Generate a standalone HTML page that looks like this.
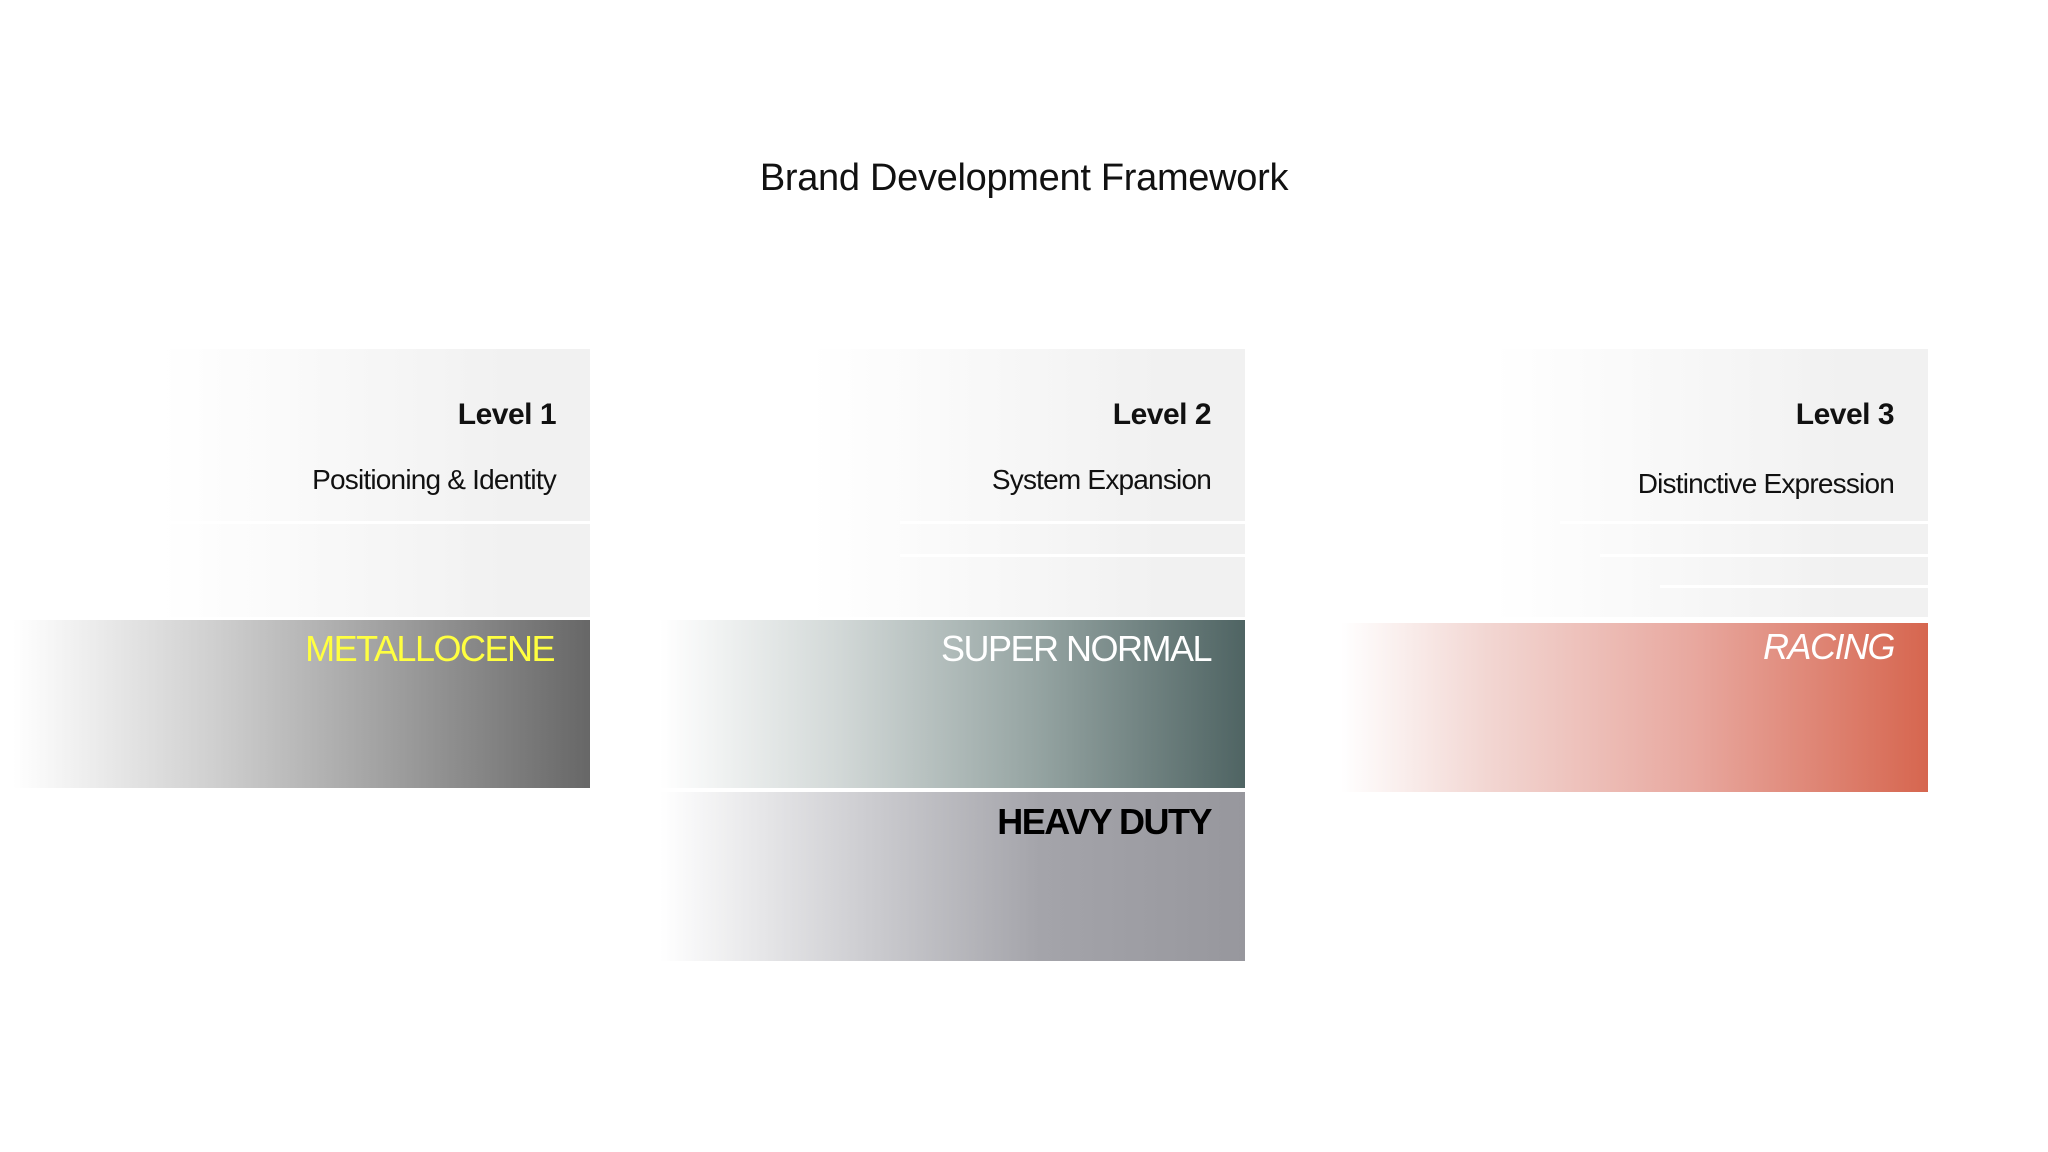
<!DOCTYPE html>
<html><head><style>
body{margin:0;width:2048px;height:1152px;background:#fff;position:relative;overflow:hidden;font-family:"Liberation Sans",sans-serif;}
.a{position:absolute;}
.t{position:absolute;white-space:nowrap;line-height:1;}
.hd{background:linear-gradient(90deg,rgba(242,242,242,0),#f1f1f1 80%);}
.ln{position:absolute;height:3px;background:#fff;}
</style></head><body>
<div class="t" style="left:0;width:2048px;text-align:center;top:159px;font-size:38px;color:#111;letter-spacing:-0.3px;">Brand Development Framework</div>

<!-- Panel 1 -->
<div class="a hd" style="left:161px;top:349px;width:429px;height:268px;"></div>
<div class="ln" style="left:161px;top:521px;width:429px;"></div>
<div class="a" style="left:13px;top:620px;width:577px;height:168px;background:linear-gradient(90deg,rgba(255,255,255,0),#cfcfcf 35%,#a0a0a0 65%,#676767);"></div>
<div class="t" style="right:1492px;top:400px;font-size:30px;font-weight:bold;color:#111;letter-spacing:-0.5px;">Level 1</div>
<div class="t" style="right:1492px;top:466px;font-size:28px;color:#111;letter-spacing:-0.8px;">Positioning &amp; Identity</div>
<div class="t" style="right:1494px;top:631px;font-size:36px;color:#ffff40;letter-spacing:-1.5px;">METALLOCENE</div>

<!-- Panel 2 -->
<div class="a hd" style="left:810px;top:349px;width:435px;height:268px;"></div>
<div class="ln" style="left:900px;top:521px;width:345px;"></div>
<div class="ln" style="left:900px;top:554px;width:345px;"></div>
<div class="a" style="left:660px;top:620px;width:585px;height:168px;background:linear-gradient(90deg,rgba(255,255,255,0),#d3d9d8 30%,#94a3a1 65%,#4f6463);"></div>
<div class="a" style="left:660px;top:792px;width:585px;height:169px;background:linear-gradient(90deg,rgba(255,255,255,0),#cdcdd1 35%,#a4a4aa 65%,#97979d);"></div>
<div class="t" style="right:837px;top:400px;font-size:30px;font-weight:bold;color:#111;letter-spacing:-0.5px;">Level 2</div>
<div class="t" style="right:837px;top:466px;font-size:28px;color:#111;letter-spacing:-0.8px;">System Expansion</div>
<div class="t" style="right:837px;top:631px;font-size:36px;color:#fff;letter-spacing:-1.5px;">SUPER NORMAL</div>
<div class="t" style="right:837px;top:804px;font-size:36px;font-weight:bold;color:#000;letter-spacing:-1.5px;">HEAVY DUTY</div>

<!-- Panel 3 -->
<div class="a hd" style="left:1493px;top:349px;width:435px;height:268px;"></div>
<div class="ln" style="left:1560px;top:521px;width:368px;"></div>
<div class="ln" style="left:1600px;top:554px;width:328px;"></div>
<div class="ln" style="left:1660px;top:585px;width:268px;"></div>
<div class="a" style="left:1341px;top:623px;width:587px;height:169px;background:linear-gradient(90deg,rgba(255,255,255,0),#f2d6d2 25%,#e8a89f 60%,#d6664f);"></div>
<div class="t" style="right:154px;top:400px;font-size:30px;font-weight:bold;color:#111;letter-spacing:-0.5px;">Level 3</div>
<div class="t" style="right:154px;top:470px;font-size:28px;color:#111;letter-spacing:-0.8px;">Distinctive Expression</div>
<div class="t" style="right:154px;top:629px;font-size:36px;font-style:italic;color:#fff;letter-spacing:-1.5px;">RACING</div>
</body></html>
